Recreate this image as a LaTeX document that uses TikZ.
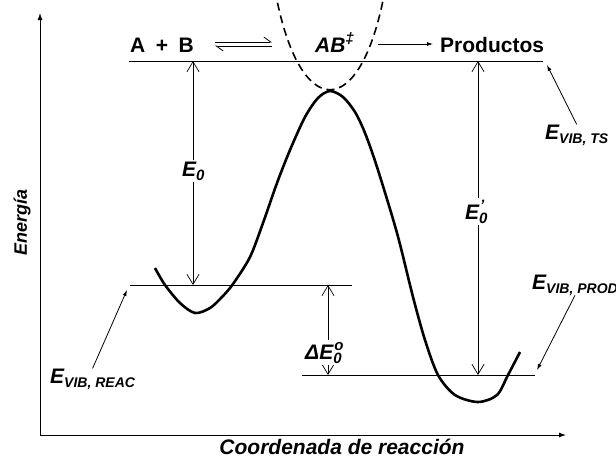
\documentclass[tikz,border=0pt]{standalone}
\usepackage{fontspec}
\setmainfont{Liberation Sans}
\usetikzlibrary{arrows.meta}

% small lowered / stacked indices in text
\newcommand{\lowsm}[1]{\raisebox{-4pt}{\fontsize{14}{14}\selectfont #1}}
\newcommand{\lowdg}[1]{\raisebox{-4pt}{\fontsize{15}{15}\selectfont #1}}
\newcommand{\stackdg}[2]{\rlap{\raisebox{-4pt}{\fontsize{15}{15}\selectfont #1}}\kern1pt\raisebox{9pt}{\fontsize{15}{15}\selectfont #2}}

\begin{document}
\begin{tikzpicture}[x=1pt, y=-1pt,
    every node/.style={font=\fontsize{21}{24}\selectfont\bfseries\itshape, inner sep=0pt},
    roman/.style={font=\fontsize{21}{24}\selectfont\bfseries},
    axis/.style={line width=0.9pt, -{Latex[length=7pt, width=5pt]}},
    lvl/.style={line width=0.9pt},
    gaparrow/.style={line width=0.7pt, {Straight Barb[length=10pt, width=12pt]}-{Straight Barb[length=10pt, width=12pt]}},
    gaplabel/.style={fill=white, inner sep=2pt, anchor=base west},
    point/.style={line width=0.8pt, -{Latex[length=6pt, width=4pt]}},
    harp/.style={line width=0.8pt, -{Straight Barb[left, length=7pt, width=10pt]}},
    pes/.style={line width=2.6pt, line join=round},
    tsdash/.style={line width=1.6pt, dash pattern=on 8pt off 5pt}]
  \useasboundingbox (0,0) rectangle (616,459);
  % axes
  \coordinate (O) at (40,435);
  \coordinate (ytop) at (40,13);
  \coordinate (xend) at (566,435);
  \draw[axis] (O) -- (ytop);
  \draw[axis] (O) -- (xend);
  \node[font=\fontsize{18}{20}\selectfont\bfseries\itshape, rotate=90, anchor=base] (energia) at (27,222) {Energía};
  \node[anchor=base] (coord) at (342,454) {Coordenada de reacción};
  % energy levels
  \coordinate (tsL) at (129,61);  \coordinate (tsR) at (543,61);
  \coordinate (reL) at (130,285); \coordinate (reR) at (352,285);
  \coordinate (prL) at (302,375); \coordinate (prR) at (535,375);
  \draw[lvl] (tsL) -- (tsR);
  \draw[lvl] (reL) -- (reR);
  \draw[lvl] (prL) -- (prR);
  % potential energy curve
  \draw[pes] plot[smooth, tension=0.5] coordinates {(155,268) (165,285) (180,303) (195,313) (210,308) (222,297) (233,284) (250,257) (263,223) (277,183) (290,150) (305,117) (318,98) (330,91) (343,97) (355,112) (365,133) (377,167) (397,233) (413,297) (425,340) (438,375) (455,395) (478,402) (497,395) (508,375) (520,352)};
  % well of the activated complex
  \begin{scope}
    \clip (0,0) rectangle (616,459);
    \draw[tsdash] (275,-10) .. controls (299,123) and (361,123) .. (385,-10);
  \end{scope}
  % energy differences
  \coordinate (e0top) at (193,61);  \coordinate (e0bot) at (193,285);
  \coordinate (e1top) at (478,61);  \coordinate (e1bot) at (478,375);
  \coordinate (dtop) at (328,285);  \coordinate (dbot) at (328,375);
  \draw[gaparrow] (e0top) -- (e0bot);
  \draw[gaparrow] (e1top) -- (e1bot);
  \draw[gaparrow] (dtop) -- (dbot);
  \node[gaplabel] (e0) at (180,176) {E\lowdg{0}};
  \node[gaplabel] (e1) at (463,219) {E\stackdg{0}{'}};
  \node[gaplabel] (de) at (303,359) {ΔE\stackdg{0}{o}};
  % reaction scheme
  \node[roman, anchor=base west] (ab) at (130,52) {A\hspace{0.5em}+\hspace{0.5em}B};
  \node[anchor=base west] (abts) at (315,52) {AB\raisebox{9pt}{\fontsize{15}{15}\selectfont ‡}};
  \node[roman, anchor=base west] (prod) at (440,52) {Productos};
  \coordinate (eqL) at (215,44); \coordinate (eqR) at (272,44);
  \draw[harp] ([yshift=2pt]eqL) -- ([yshift=2pt]eqR);
  \draw[harp] ([yshift=-2pt]eqR) -- ([yshift=-2pt]eqL);
  \draw[point, shorten <=24pt, shorten >=7pt] (abts.east |- eqL) -- (prod.west |- eqL);
  % vibrational levels
  \node[anchor=base west] (vreac) at (50,383) {E\lowsm{VIB, REAC}};
  \node[anchor=base west] (vts) at (545,139) {E\lowsm{VIB, TS}};
  \node[anchor=base west] (vprod) at (532,289) {E\lowsm{VIB, PROD}};
  \coordinate (reP) at (127,290);
  \coordinate (tsP) at (547,65);
  \coordinate (prP) at (537,370);
  \draw[point] (vreac.north) -- (reP);
  \draw[point] (vts.north) -- (tsP);
  \draw[point] (vprod.south) -- (prP);
\end{tikzpicture}
\end{document}
